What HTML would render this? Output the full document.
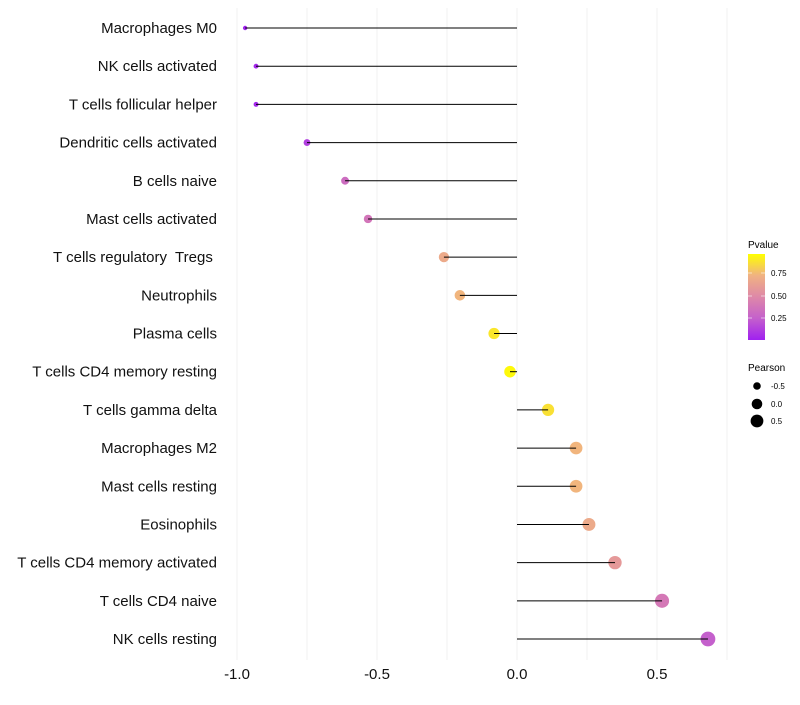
<!DOCTYPE html>
<html><head><meta charset="utf-8"><style>
body{margin:0;background:#fff;font-family:"Liberation Sans",sans-serif}
text{white-space:pre}
</style></head><body>
<svg id="chart" width="800" height="700" xmlns="http://www.w3.org/2000/svg" font-family="Liberation Sans, sans-serif">
<defs><linearGradient id="pg" x1="0" y1="1" x2="0" y2="0">
<stop offset="0" stop-color="#a020f0"/><stop offset="0.25" stop-color="#c460cc"/><stop offset="0.5" stop-color="#de88a8"/><stop offset="0.75" stop-color="#f0b282"/><stop offset="1" stop-color="#ffff00"/>
</linearGradient></defs>
<g id="grid"></g><g id="marks"></g><g id="labels"></g><g id="xaxis"></g>
<g>
<text x="748" y="248" font-size="10">Pvalue</text>
<rect x="748" y="254" width="17" height="86" fill="url(#pg)"/>
<g stroke="#fff" stroke-width="0.8" opacity="0.7"><line x1="748" y1="273" x2="752" y2="273"/><line x1="761" y1="273" x2="765" y2="273"/><line x1="748" y1="296" x2="752" y2="296"/><line x1="761" y1="296" x2="765" y2="296"/><line x1="748" y1="318" x2="752" y2="318"/><line x1="761" y1="318" x2="765" y2="318"/></g>
<text x="771" y="276" font-size="8">0.75</text><text x="771" y="299" font-size="8">0.50</text><text x="771" y="321" font-size="8">0.25</text>
</g>
<g>
<text x="748" y="371" font-size="10">Pearson</text>
<circle cx="757" cy="386" r="3.8"/><text x="771" y="389" font-size="8">-0.5</text>
<circle cx="757" cy="404" r="5.3"/><text x="771" y="407" font-size="8">0.0</text>
<circle cx="757" cy="421" r="6.4"/><text x="771" y="424" font-size="8">0.5</text>
</g>
</svg>
<script>
const categories=["Macrophages M0","NK cells activated","T cells follicular helper","Dendritic cells activated","B cells naive","Mast cells activated","T cells regulatory  Tregs ","Neutrophils","Plasma cells","T cells CD4 memory resting","T cells gamma delta","Macrophages M2","Mast cells resting","Eosinophils","T cells CD4 memory activated","T cells CD4 naive","NK cells resting"];
const pearson=[-0.971,-0.932,-0.932,-0.75,-0.614,-0.532,-0.261,-0.204,-0.082,-0.025,0.111,0.211,0.211,0.257,0.35,0.518,0.682];
const pvalues=[0.01,0.03,0.03,0.12,0.33,0.38,0.7,0.76,0.92,0.98,0.9,0.76,0.76,0.7,0.6,0.4,0.25];
const xTicks=[-1.0,-0.5,0.0,0.5];
const xTickLabels=["-1.0","-0.5","0.0","0.5"];
const gridVals=[-1,-0.75,-0.5,-0.25,0,0.25,0.5,0.75];
const NS="http://www.w3.org/2000/svg";
const X=v=>517+280*v;
const Y=i=>28+i*(611/16);
const R=v=>Math.sqrt(Math.max(3,34+30*v));
function col(p){const s=[[160,32,240],[196,96,204],[222,136,168],[240,178,130],[255,255,0]];const f=Math.min(3.999,Math.max(0,p*4));const k=Math.floor(f),t=f-k;const a=s[k],b=s[k+1];return `rgb(${a.map((c,j)=>Math.round(c+(b[j]-c)*t)).join(',')})`}
function mk(tag,at,parent){const e=document.createElementNS(NS,tag);for(const k in at)e.setAttribute(k,at[k]);document.getElementById(parent).appendChild(e);return e}
gridVals.forEach(v=>{const l=mk('line',{x1:X(v),x2:X(v),y1:8,y2:660,stroke:'#f0f0f0','stroke-width':1},'grid');

});
categories.forEach((c,i)=>{
const pt=mk('circle',{cx:X(pearson[i]),cy:Y(i),r:R(pearson[i]),fill:col(pvalues[i])},'marks');


const ln=mk('line',{x1:X(0),x2:X(pearson[i]),y1:Y(i),y2:Y(i),stroke:'#000','stroke-width':1},'marks');


const t=mk('text',{x:217,y:Y(i)+5,'text-anchor':'end','font-size':15,fill:'#111'},'labels');
t.textContent=c;


});
xTicks.forEach((v,i)=>{const t=mk('text',{x:X(v),y:679,'text-anchor':'middle','font-size':15,fill:'#111'},'xaxis');
t.textContent=xTickLabels[i];

});
</script>
</body></html>
